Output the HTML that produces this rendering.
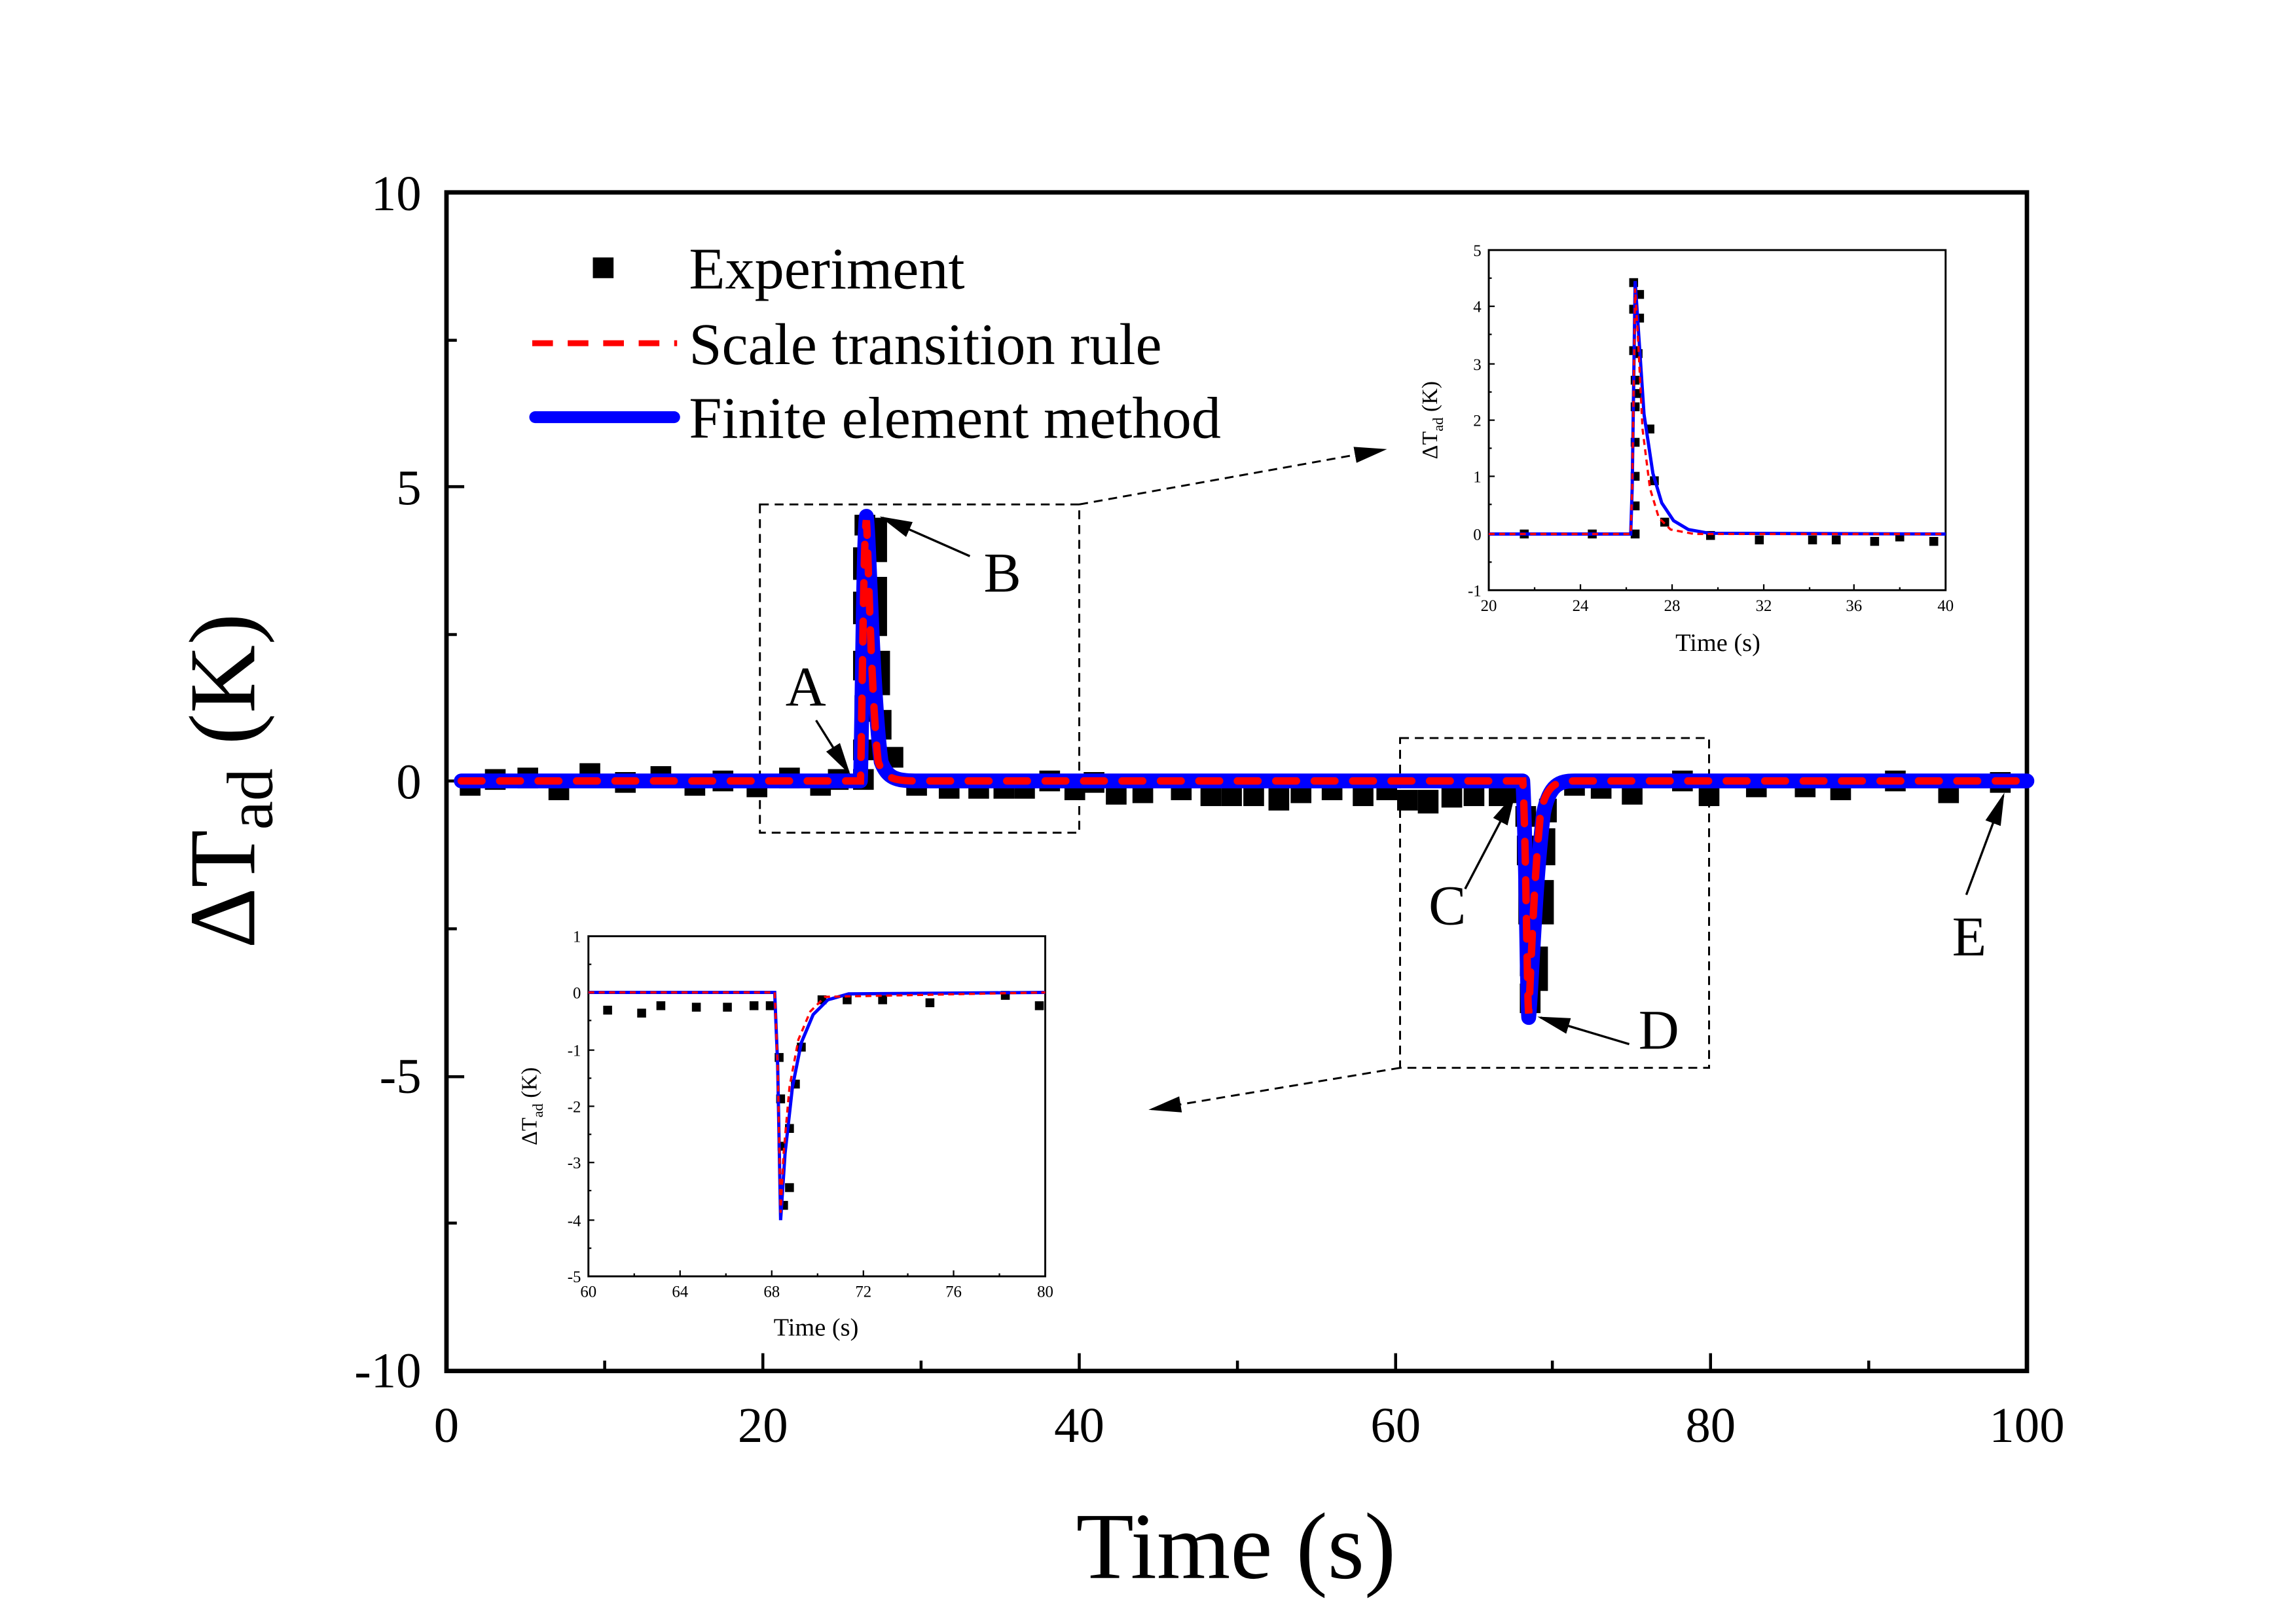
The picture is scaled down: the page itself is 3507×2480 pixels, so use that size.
<!DOCTYPE html>
<html><head><meta charset="utf-8"><style>html,body{margin:0;padding:0;background:#fff}svg{display:block}</style></head>
<body>
<svg width="3507" height="2480" viewBox="0 0 1553 1098" xmlns="http://www.w3.org/2000/svg" font-family="Liberation Serif, serif">
<defs>
<marker id="ah2" viewBox="0 0 10 10" refX="9" refY="5" markerWidth="22" markerHeight="22" orient="auto" markerUnits="userSpaceOnUse"><path d="M0,2.5 L10,5 L0,7.5 z" fill="#000"/></marker>
</defs>
<rect width="1553" height="1098" fill="#fff"/>
<rect x="302" y="130" width="1069" height="797" fill="none" stroke="#000" stroke-width="3"/>
<g stroke="#000" stroke-width="2">
<path d="M302,927v-12M516,927v-12M730,927v-12M944,927v-12M1157,927v-12M409,927v-7M623,927v-7M837,927v-7M1050,927v-7M1264,927v-7"/>
<path d="M302,130h12M302,329h12M302,528h12M302,728h12M302,230h7M302,429h7M302,628h7M302,827h7"/>
</g>
<g font-size="34" text-anchor="end">
<text x="285" y="142">10</text><text x="285" y="341">5</text><text x="285" y="540">0</text><text x="285" y="739">-5</text><text x="285" y="938">-10</text>
</g>
<g font-size="34" text-anchor="middle">
<text x="302" y="975">0</text><text x="516" y="975">20</text><text x="730" y="975">40</text><text x="944" y="975">60</text><text x="1157" y="975">80</text><text x="1371" y="975">100</text>
</g>
<text x="836" y="1067" font-size="64" text-anchor="middle">Time (s)</text>
<text transform="translate(172,528) rotate(-90)" font-size="64" text-anchor="middle">ΔT<tspan font-size="44" dy="12">ad</tspan><tspan dy="-12"> (K)</tspan></text>

<g fill="none" stroke="#000" stroke-width="1.3" stroke-dasharray="6,4">
<rect x="514" y="341" width="216" height="222"/>
<rect x="947" y="499" width="209" height="223"/>
<line x1="730" y1="341" x2="936" y2="304" marker-end="url(#ah2)"/>
<line x1="947" y1="722" x2="779" y2="750" marker-end="url(#ah2)"/>
</g>

<g fill="#000">
<rect x="311" y="524" width="14" height="14"/><rect x="328" y="520" width="14" height="14"/><rect x="350" y="519" width="14" height="14"/><rect x="371" y="527" width="14" height="14"/><rect x="392" y="516" width="14" height="14"/><rect x="416" y="522" width="14" height="14"/><rect x="440" y="518" width="14" height="14"/><rect x="463" y="524" width="14" height="14"/><rect x="482" y="521" width="14" height="14"/><rect x="505" y="525" width="14" height="14"/><rect x="527" y="519" width="14" height="14"/><rect x="548" y="524" width="14" height="14"/><rect x="560" y="520" width="14" height="14"/>
<rect x="577" y="520" width="14" height="14"/><rect x="577" y="500" width="14" height="14"/><rect x="578" y="470" width="14" height="18"/><rect x="577" y="440" width="14" height="20"/><rect x="577" y="400" width="14" height="22"/><rect x="577" y="370" width="14" height="22"/><rect x="578" y="348" width="14" height="14"/><rect x="586" y="350" width="14" height="30"/><rect x="586" y="390" width="14" height="40"/><rect x="588" y="440" width="14" height="30"/><rect x="591" y="480" width="12" height="20"/><rect x="597" y="505" width="14" height="14"/>
<rect x="613" y="524" width="14" height="14"/><rect x="635" y="526" width="14" height="14"/><rect x="655" y="526" width="14" height="14"/><rect x="672" y="526" width="14" height="14"/><rect x="686" y="526" width="14" height="14"/><rect x="703" y="521" width="14" height="14"/><rect x="720" y="527" width="14" height="14"/><rect x="733" y="522" width="14" height="14"/><rect x="748" y="530" width="14" height="14"/><rect x="766" y="529" width="14" height="14"/><rect x="792" y="527" width="14" height="14"/><rect x="812" y="529" width="14" height="16"/><rect x="826" y="529" width="14" height="16"/><rect x="841" y="529" width="14" height="16"/><rect x="858" y="532" width="14" height="16"/><rect x="873" y="529" width="14" height="14"/><rect x="894" y="527" width="14" height="14"/><rect x="915" y="529" width="14" height="16"/><rect x="931" y="527" width="14" height="14"/><rect x="945" y="534" width="14" height="14"/><rect x="959" y="534" width="14" height="16"/><rect x="975" y="530" width="14" height="16"/><rect x="990" y="529" width="14" height="16"/><rect x="1007" y="531" width="14" height="14"/><rect x="1018" y="529" width="14" height="14"/>
<rect x="1025" y="545" width="14" height="14"/><rect x="1026" y="565" width="14" height="20"/><rect x="1027" y="595" width="14" height="30"/><rect x="1028" y="630" width="14" height="30"/><rect x="1028" y="665" width="14" height="20"/><rect x="1035" y="640" width="12" height="30"/><rect x="1037" y="595" width="14" height="30"/><rect x="1038" y="560" width="14" height="25"/><rect x="1041" y="540" width="12" height="16"/>
<rect x="1058" y="524" width="14" height="14"/><rect x="1076" y="526" width="14" height="14"/><rect x="1097" y="530" width="14" height="14"/><rect x="1131" y="521" width="14" height="14"/><rect x="1149" y="531" width="14" height="14"/><rect x="1181" y="525" width="14" height="14"/><rect x="1214" y="525" width="14" height="14"/><rect x="1238" y="527" width="14" height="14"/><rect x="1275" y="521" width="14" height="14"/><rect x="1311" y="529" width="14" height="14"/><rect x="1346" y="522" width="14" height="14"/>
</g>
<path d="M312,528 L582,528 C583,500 584,360 586,349 C588,360 590,470 596,515 C600,526 606,528 620,528 L1030,528 C1032,560 1033,680 1034,688 C1036,670 1038,600 1044,550 C1048,530 1055,528 1065,528 L1371,528" fill="none" stroke="#0000ff" stroke-width="10" stroke-linejoin="round" stroke-linecap="round"/>
<path d="M312,528 L582,528 C583,500 584,360 586,352 C587,360 589,470 594,515 C598,526 604,528 620,528 L1030,528 C1032,560 1033,680 1034,685 C1035,670 1037,600 1042,550 C1046,530 1053,528 1065,528 L1371,528" fill="none" stroke="#ff0000" stroke-width="5" stroke-dasharray="14,12" stroke-linecap="round"/>

<g stroke="#000" stroke-width="1.5" fill="none">
<line x1="552" y1="487" x2="574" y2="522" marker-end="url(#ah2)"/>
<line x1="656" y1="376" x2="597" y2="350" marker-end="url(#ah2)"/>
<line x1="991" y1="601" x2="1024" y2="538" marker-end="url(#ah2)"/>
<line x1="1102" y1="706" x2="1042" y2="688" marker-end="url(#ah2)"/>
<line x1="1330" y1="605" x2="1355" y2="538" marker-end="url(#ah2)"/>
</g>
<g font-size="38" text-anchor="middle">
<text x="545" y="477">A</text><text x="678" y="400">B</text><text x="979" y="625">C</text><text x="1122" y="709">D</text><text x="1332" y="646">E</text>
</g>

<rect x="401" y="174" width="14" height="14" fill="#000"/>
<text x="466" y="195" font-size="40">Experiment</text>
<line x1="360" y1="232" x2="458" y2="232" stroke="#ff0000" stroke-width="4" stroke-dasharray="14,10"/>
<text x="466" y="246" font-size="40">Scale transition rule</text>
<line x1="362" y1="282" x2="456" y2="282" stroke="#0000ff" stroke-width="8" stroke-linecap="round"/>
<text x="466" y="296" font-size="40">Finite element method</text>

<g>
<rect x="1007" y="169" width="309" height="230" fill="#fff" stroke="#000" stroke-width="1.3"/>
<g stroke="#000" stroke-width="1">
<path d="M1007,399v-4M1069,399v-4M1131,399v-4M1193,399v-4M1254,399v-4M1038,399v-2M1100,399v-2M1162,399v-2M1224,399v-2M1285,399v-2"/>
<path d="M1007,169h4M1007,207h4M1007,246h4M1007,284h4M1007,322h4M1007,361h4M1007,188h2M1007,226h2M1007,265h2M1007,303h2M1007,341h2M1007,380h2"/>
</g>
<g font-size="11" text-anchor="end"><text x="1002" y="173">5</text><text x="1002" y="211">4</text><text x="1002" y="250">3</text><text x="1002" y="288">2</text><text x="1002" y="326">1</text><text x="1002" y="365">0</text><text x="1002" y="403">-1</text></g>
<g font-size="11" text-anchor="middle"><text x="1007" y="413">20</text><text x="1069" y="413">24</text><text x="1131" y="413">28</text><text x="1193" y="413">32</text><text x="1254" y="413">36</text><text x="1316" y="413">40</text></g>
<text x="1162" y="440" font-size="17" text-anchor="middle">Time (s)</text>
<text transform="translate(972,284) rotate(-90)" font-size="15" text-anchor="middle">ΔT<tspan font-size="10" dy="4">ad</tspan><tspan dy="-4"> (K)</tspan></text>
<g fill="#000">
<rect x="1028" y="358" width="6" height="6"/><rect x="1074" y="358" width="6" height="6"/><rect x="1103" y="358" width="6" height="6"/><rect x="1103" y="339" width="6" height="6"/><rect x="1103" y="319" width="6" height="6"/><rect x="1103" y="296" width="6" height="6"/><rect x="1103" y="272" width="6" height="6"/><rect x="1103" y="254" width="6" height="6"/><rect x="1102" y="234" width="6" height="6"/><rect x="1102" y="206" width="6" height="6"/><rect x="1102" y="188" width="6" height="6"/><rect x="1106" y="196" width="6" height="6"/><rect x="1106" y="212" width="6" height="6"/><rect x="1105" y="236" width="6" height="6"/><rect x="1104" y="263" width="6" height="6"/><rect x="1113" y="287" width="6" height="6"/><rect x="1116" y="322" width="6" height="6"/><rect x="1123" y="350" width="6" height="6"/><rect x="1154" y="359" width="6" height="6"/><rect x="1187" y="362" width="6" height="6"/><rect x="1223" y="362" width="6" height="6"/><rect x="1239" y="362" width="6" height="6"/><rect x="1265" y="363" width="6" height="6"/><rect x="1282" y="360" width="6" height="6"/><rect x="1305" y="363" width="6" height="6"/>
</g>
<path d="M1007,361 L1103,361 L1104,330 L1106,190 L1108,220 L1112,280 L1118,320 L1124,340 L1132,352 L1142,358 L1156,360.5 L1316,361" fill="none" stroke="#0000ff" stroke-width="2.2"/>
<path d="M1007,361 L1103,361 L1104,330 L1106,195 L1108,230 L1111,290 L1116,330 L1122,350 L1130,358 L1146,361 L1316,361" fill="none" stroke="#ff0000" stroke-width="1.5" stroke-dasharray="4,3"/>
</g>

<g>
<rect x="398" y="633" width="309" height="230" fill="#fff" stroke="#000" stroke-width="1.3"/>
<g stroke="#000" stroke-width="1">
<path d="M398,863v-4M460,863v-4M522,863v-4M584,863v-4M645,863v-4M429,863v-2M491,863v-2M553,863v-2M614,863v-2M676,863v-2"/>
<path d="M398,633h4M398,671h4M398,710h4M398,748h4M398,786h4M398,825h4M398,652h2M398,690h2M398,729h2M398,767h2M398,805h2M398,844h2"/>
</g>
<g font-size="11" text-anchor="end"><text x="393" y="637">1</text><text x="393" y="675">0</text><text x="393" y="714">-1</text><text x="393" y="752">-2</text><text x="393" y="790">-3</text><text x="393" y="829">-4</text><text x="393" y="867">-5</text></g>
<g font-size="11" text-anchor="middle"><text x="398" y="877">60</text><text x="460" y="877">64</text><text x="522" y="877">68</text><text x="584" y="877">72</text><text x="645" y="877">76</text><text x="707" y="877">80</text></g>
<text x="552" y="903" font-size="17" text-anchor="middle">Time (s)</text>
<text transform="translate(363,748) rotate(-90)" font-size="15" text-anchor="middle">ΔT<tspan font-size="10" dy="4">ad</tspan><tspan dy="-4"> (K)</tspan></text>
<g fill="#000">
<rect x="408" y="680" width="6" height="6"/><rect x="431" y="682" width="6" height="6"/><rect x="444" y="677" width="6" height="6"/><rect x="468" y="678" width="6" height="6"/><rect x="489" y="678" width="6" height="6"/><rect x="507" y="677" width="6" height="6"/><rect x="518" y="677" width="6" height="6"/><rect x="524" y="712" width="6" height="6"/><rect x="525" y="740" width="6" height="6"/><rect x="526" y="772" width="6" height="6"/><rect x="527" y="812" width="6" height="6"/><rect x="531" y="800" width="6" height="6"/><rect x="531" y="760" width="6" height="6"/><rect x="535" y="730" width="6" height="6"/><rect x="539" y="705" width="6" height="6"/><rect x="553" y="673" width="6" height="6"/><rect x="570" y="673" width="6" height="6"/><rect x="594" y="673" width="6" height="6"/><rect x="626" y="675" width="6" height="6"/><rect x="677" y="670" width="6" height="6"/><rect x="700" y="677" width="6" height="6"/>
</g>
<path d="M398,671 L524,671 L526,720 L528,825 L531,780 L536,735 L542,705 L550,686 L560,676 L574,672 L707,671" fill="none" stroke="#0000ff" stroke-width="2.2"/>
<path d="M398,671 L524,671 L526,720 L528,820 L530,780 L534,735 L540,703 L548,684 L558,674 L707,671" fill="none" stroke="#ff0000" stroke-width="1.5" stroke-dasharray="4,3"/>
</g>
</svg>
</body></html>
